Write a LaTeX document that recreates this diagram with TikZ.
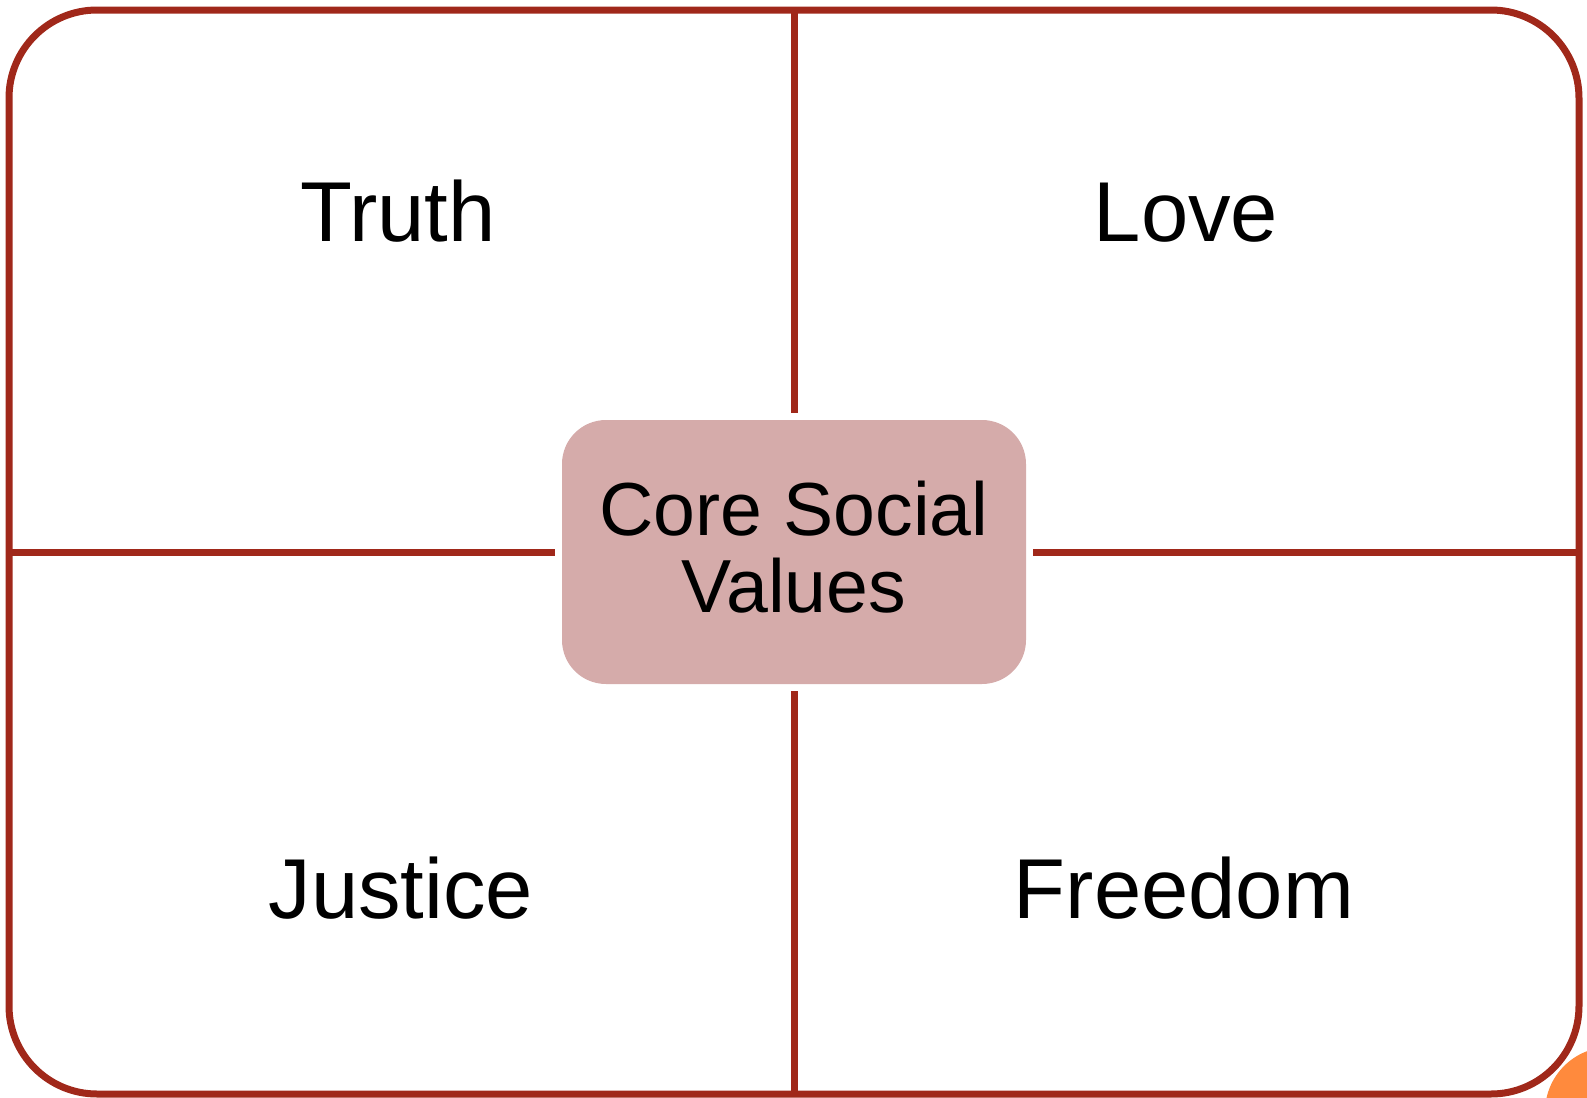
\documentclass[tikz,border=0pt]{standalone}
\usepackage{fontspec}
\setmainfont{Liberation Sans}
\definecolor{frame edge}{HTML}{A0281A}
\definecolor{core area}{HTML}{D5ABAA}
\definecolor{dot area}{HTML}{FF8A3D}
\def\pagebox{(0,0) rectangle (793.5pt,-549pt)}
\def\cornerdot{(805pt,-556pt) circle (32.5pt)}
\tikzset{
  outline/.style={draw=frame edge, line width=3.5pt, rounded corners=44pt,
    minimum width=785pt, minimum height=542pt, outer sep=0pt},
  filled/.style={fill=core area, rounded corners=22pt, minimum width=232pt,
    minimum height=132pt, outer sep=3.5pt, align=center, text depth=5pt,
    font=\fontsize{37.6}{38.5}\selectfont},
  divider/.style={draw=frame edge, line width=3.5pt},
  value/.style={anchor=base, font=\fontsize{42.5}{50}\selectfont}
}
\begin{document}
\begin{tikzpicture}
    \useasboundingbox \pagebox;
    \begin{scope}
      \clip \pagebox;
      \fill[dot area] \cornerdot;
    \end{scope}
    \node[outline] (frame) at (397pt,-276pt) {};
    \node[filled] (core) at (397pt,-276pt) {Core Social\\Values};
    \draw[divider] (frame.north) -- (core);
    \draw[divider] (frame.south) -- (core);
    \draw[divider] (frame.west) -- (core);
    \draw[divider] (frame.east) -- (core);
    \node[value] (truth) at (199pt,-120.5pt) {Truth};
    \node[value] (love) at (593pt,-120.5pt) {Love};
    \node[value] (justice) at (200.5pt,-459pt) {Justice};
    \node[value] (freedom) at (592pt,-459pt) {Freedom};
  \end{tikzpicture}
\end{document}
